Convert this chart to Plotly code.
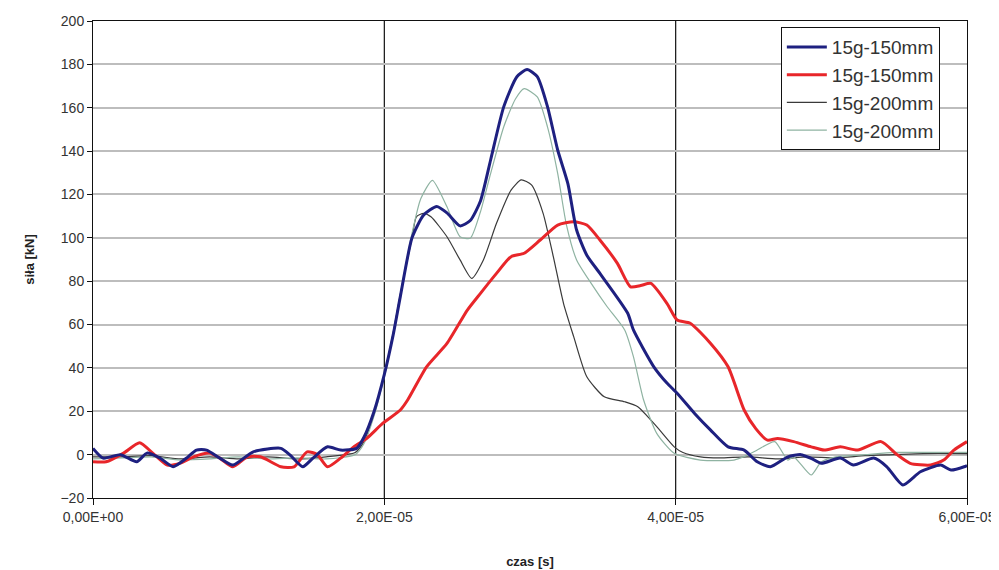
import plotly.graph_objects as go

# time in microseconds, force in kN
t_blue = [0, 0.7, 1.9, 3, 3.7, 4.6, 5.5, 6.4, 7.1, 7.8, 8.7, 9.6, 11, 12.9, 13.5, 14.4, 15.1, 16.1, 17, 18.1,
          18.6, 19.3, 20, 20.6, 21.1, 21.9, 22.7, 23.6, 24.3, 25.2, 25.9, 26.6, 27.3, 28.2, 29.1, 29.8, 30.5,
          31.2, 31.9, 32.6, 33.2, 33.9, 34.8, 36.7, 37.1, 38.5, 39.4, 40.1, 41.3, 42.4, 43.6, 44.7, 45.6, 46.5,
          47.7, 48.6, 49.3, 50, 51.3, 52.2, 53.6, 54.5, 55.6, 56.8, 58.2, 58.9, 59.8, 60]
v_blue = [2.9, -1.6, 0, -3.3, 0.7, -1.6, -5.6, -1.7, 2.1, 2.1, -1.6, -4.8, 1.3, 2.9, 0, -5.6, -1.6, 3.6, 2.1, 2.9,
          8, 20, 37, 55, 73, 100, 110.5, 114.5, 111.5, 105.5, 108, 117, 136, 160.5, 174.3, 177.6, 174.3,
          160.5, 140.5, 125, 103.6, 92, 83.6, 65.3, 57.5, 40.5, 33, 28.3, 19, 11.3, 3.6, 2.1, -3.3, -5.6,
          -1, 0, -1.7, -4, -1.6, -4.8, -1.6, -5.6, -14, -7.9, -4.8, -7.1, -5.6, -5]

t_red = [0, 0.9, 2.1, 3.2, 4.1, 5.1, 6, 6.9, 8, 8.7, 9.6, 10.6, 11.5, 12.9, 13.8, 14.7, 15.4, 16.1, 17, 17.9,
         18.8, 19.9, 21.1, 21.6, 22.9, 24.3, 25.7, 26.6, 27.7, 28.7, 29.6, 30.7, 31.9, 33, 33.9, 34.8, 36,
         36.9, 37.6, 38.3, 39.4, 40.1, 41, 42.4, 43.6, 44.7, 45.5, 46.3, 47, 48.1, 49.3, 50.2, 51.3, 52.5,
         54.1, 55.2, 56.1, 57.5, 58.4, 59.1, 60]
v_red = [-3.3, -3.3, 0.7, 5.5, 0.7, -4.8, -3.9, -1, 0.7, -1.6, -5.6, -1, -1, -5.6, -5.6, 1.3, 0, -5.6, -1.6, 3.6,
         7.5, 14.5, 20.6, 25.2, 40.5, 51.3, 66.7, 74.4, 83.6, 91.3, 92.9, 99, 105.9, 107.4, 105.9, 99, 88.2,
         77.4, 78, 79, 69.8, 62.1, 60.6, 51.3, 40.5, 20.6, 12, 6.7, 7.5, 6, 3.6, 2.1, 3.6, 2.1,
         6, 0, -4, -4.8, -2.5, 2.1, 6]

t_gray = [0, 2, 4, 6, 8, 10, 12, 14, 16, 18, 18.6, 19.3, 20, 20.6, 21.1, 21.9, 22.2, 22.7, 23.2, 24.3, 25.2,
          26, 26.8, 27.7, 28.7, 29.4, 30.1, 30.9, 31.6, 32.3, 33, 33.9, 35.1, 36.5, 37.4, 38.7, 39.9, 40.5,
          41.7, 43, 45, 47, 49, 51, 53, 55, 57, 60]
v_gray = [-1, -1, -0.5, -2, -1, -2, -1, -2, -1, 1, 6, 19, 37, 56, 74, 100, 109.7, 111.3, 109.7, 100.5, 89.8,
          81.3, 89.8, 106.7, 122, 126.7, 124.4, 111.3, 91.3, 69.8, 54.4, 35.9, 26.7, 24.4, 22.1, 12.9, 3.6, 1,
          -1, -1.5, -1, -2, -1, -1.5, -0.5, 0, 0.5, 0.5]

t_green = [0, 2, 4, 6, 8, 10, 12, 14, 16, 18, 18.6, 19.3, 20, 20.6, 21.1, 21.9, 22.5, 23.3, 24.3, 25.2, 25.9,
           26.6, 27.3, 28.2, 29.0, 29.6, 30.5, 31.2, 31.9, 32.5, 33.2, 34.2, 35.3, 36.5, 37.1, 37.8, 38.7,
           39.9, 41.7, 44, 45, 45.6, 46.8, 47.7, 48.1, 49.3, 50, 51, 53, 55, 57, 60]
v_green = [-2, -1.5, -1, -2.5, -2, -1, -2, -1.5, -2, 0, 5, 18, 36, 55, 74, 102, 118, 126.5, 114.3, 100.5, 99.8,
           112, 129.7, 151.2, 164, 168.8, 165, 151.2, 129.7, 106, 89.8, 79, 68.2, 57.5, 45.2, 25.2, 9.8,
           0.6, -2.5, -2.5, 0, 2.1, 6, -2.5, -1, -9.4, -3.3, -1, 0, 1, 1, 1]

series_names = ["15g-150mm", "15g-150mm", "15g-200mm", "15g-200mm"]
x_tick_vals = [0, 2e-5, 4e-5, 6e-5]
x_tick_text = ["0,00E+00", "2,00E-05", "4,00E-05", "6,00E-05"]
y_tick_vals = [-20, 0, 20, 40, 60, 80, 100, 120, 140, 160, 180, 200]
dark_grid_y = [40, 80, 100]
dark_grid_x = [2e-5, 4e-5]

def sec(ts):
    return [t * 1e-6 for t in ts]

fig = go.Figure()
styles = [
    (t_gray, v_gray, "#3a3a3a", 1.2),
    (t_green, v_green, "#8fb3a2", 1.2),
    (t_red, v_red, "#e8262a", 3),
    (t_blue, v_blue, "#1e2080", 3),
]
order_names = [series_names[2], series_names[3], series_names[1], series_names[0]]
ranks = [3, 4, 2, 1]
for (ts, vs, col, w), nm, rk in zip(styles, order_names, ranks):
    fig.add_trace(go.Scatter(x=sec(ts), y=vs, mode="lines", name=nm, legendrank=rk,
                             line=dict(color=col, width=w, shape="spline", smoothing=0.6)))

shapes = []
for yv in dark_grid_y:
    shapes.append(dict(type="line", xref="paper", x0=0, x1=1, yref="y", y0=yv, y1=yv,
                       line=dict(color="#111111", width=1.5), layer="below"))
for xv in dark_grid_x:
    shapes.append(dict(type="line", yref="paper", y0=0, y1=1, xref="x", x0=xv, x1=xv,
                       line=dict(color="#111111", width=1.2), layer="below"))

fig.update_layout(
    width=999, height=570,
    margin=dict(l=85, r=40, t=13, b=80, autoexpand=False),
    paper_bgcolor="white", plot_bgcolor="white",
    font=dict(family="Liberation Sans, Arial, sans-serif", size=14, color="#333333"),
    shapes=shapes,
    showlegend=True,
    legend=dict(x=0.787, y=0.987, xanchor="left", yanchor="top",
                bgcolor="white", bordercolor="#111111", borderwidth=1,
                font=dict(size=19, color="#333333"), traceorder="normal",
                itemwidth=40),
)
fig.update_xaxes(range=[0, 6e-5], tickvals=x_tick_vals, ticktext=x_tick_text, automargin=False,
                 showgrid=False, zeroline=False, showline=True, linecolor="#111111", linewidth=1,
                 mirror=True, ticks="outside", ticklen=6, tickcolor="#111111",
                 title=dict(text="<b>czas [s]</b>", font=dict(size=13, color="#222222"), standoff=33))
fig.update_yaxes(range=[-20, 200], tickvals=y_tick_vals, automargin=False,
                 showgrid=True, gridcolor="#bdbdbd", gridwidth=2, zeroline=False,
                 showline=True, linecolor="#111111", linewidth=1, mirror=True,
                 ticks="outside", ticklen=5, tickcolor="#111111",
                 title=dict(text="<b>siła [kN]</b>", font=dict(size=13, color="#222222"), standoff=22))

fig.write_html("out.html")
